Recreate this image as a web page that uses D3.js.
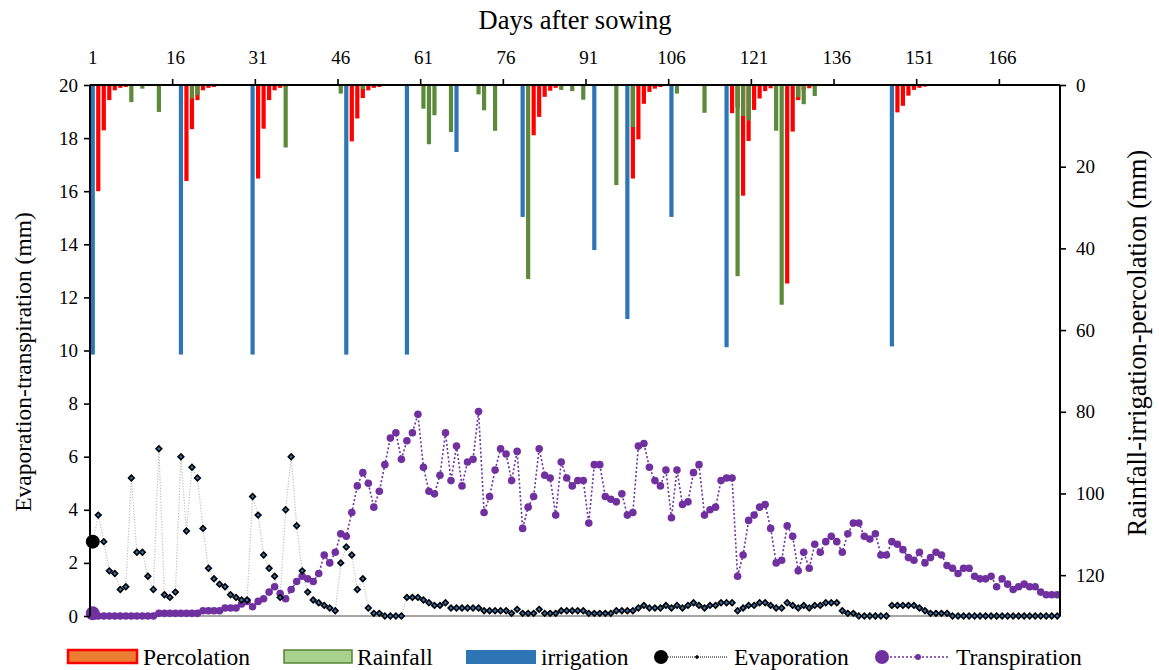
<!DOCTYPE html>
<html>
<head>
<meta charset="utf-8">
<script src="https://cdn.jsdelivr.net/npm/d3@7"></script>
<style>
  body { margin: 0; background: #fff; }
  svg text { font-family: "Liberation Serif", "Times New Roman", serif; fill: #000; }
</style>
</head>
<body>
<svg id="chart" width="1159" height="670"></svg>
<script>
// Daily water balance after sowing (days 1–176)
const days = d3.range(1, 177);

// Evaporation (mm/day), left axis
const evaporation = [
  2.8, 3.8, 2.8, 1.7, 1.6, 1.0, 1.1, 5.2, 2.4, 2.4,
  1.5, 1.0, 6.3, 0.8, 0.7, 0.9, 6.0, 3.2, 5.6, 5.2,
  3.3, 1.8, 1.4, 1.2, 1.1, 0.8, 0.7, 0.6, 0.6, 4.5,
  3.8, 2.3, 1.8, 1.5, 0.7, 4.0, 6.0, 3.4, 1.7, 0.9,
  0.6, 0.5, 0.4, 0.3, 0.2, 2.0, 2.6, 2.3, 1.0, 1.4,
  0.3, 0.1, 0.1, 0, 0, 0, 0, 0.7, 0.7, 0.7,
  0.6, 0.5, 0.4, 0.4, 0.5, 0.3, 0.3, 0.3, 0.3, 0.3,
  0.3, 0.2, 0.2, 0.2, 0.2, 0.2, 0.1, 0.25, 0.1, 0.1,
  0.1, 0.25, 0.1, 0.1, 0.1, 0.2, 0.2, 0.2, 0.2, 0.2,
  0.1, 0.1, 0.1, 0.1, 0.1, 0.2, 0.2, 0.2, 0.2, 0.3,
  0.4, 0.3, 0.3, 0.3, 0.4, 0.3, 0.4, 0.3, 0.4, 0.5,
  0.4, 0.3, 0.4, 0.4, 0.5, 0.5, 0.5, 0.2, 0.3, 0.4,
  0.4, 0.5, 0.5, 0.4, 0.3, 0.3, 0.5, 0.4, 0.3, 0.4,
  0.3, 0.4, 0.4, 0.5, 0.5, 0.5, 0.2, 0.1, 0.1, 0,
  0, 0, 0, 0, 0, 0.4, 0.4, 0.4, 0.4, 0.4,
  0.3, 0.2, 0.1, 0.1, 0.1, 0.1, 0, 0, 0, 0,
  0, 0, 0, 0, 0, 0, 0, 0, 0, 0,
  0, 0, 0, 0, 0, 0
];

// Transpiration (mm/day), left axis
const transpiration = [
  0.1, 0, 0, 0, 0, 0, 0, 0, 0, 0,
  0, 0, 0.1, 0.1, 0.1, 0.1, 0.1, 0.1, 0.1, 0.1,
  0.2, 0.2, 0.2, 0.2, 0.3, 0.3, 0.3, 0.45, 0.55, 0.35,
  0.55, 0.65, 0.9, 1.1, 0.85, 0.65, 1.0, 1.3, 1.5, 1.4,
  1.3, 1.6, 2.3, 2.0, 2.4, 3.1, 3.0, 3.9, 4.9, 5.4,
  5.0, 4.1, 4.7, 5.7, 6.7, 6.9, 5.9, 6.6, 6.9, 7.6,
  5.6, 4.7, 4.6, 5.3, 6.9, 5.1, 6.4, 4.9, 5.8, 5.9,
  7.7, 3.9, 4.5, 5.5, 6.3, 6.1, 5.1, 6.2, 3.3, 4.1,
  4.5, 6.3, 5.3, 5.2, 3.8, 5.8, 5.2, 4.9, 5.1, 5.1,
  3.5, 5.7, 5.7, 4.5, 4.4, 4.3, 4.6, 3.8, 3.9, 6.4,
  6.5, 5.6, 5.1, 4.9, 5.5, 3.7, 5.5, 4.2, 4.3, 5.4,
  5.7, 3.8, 4.0, 4.1, 5.1, 5.2, 5.2, 1.5, 2.3, 3.6,
  3.8, 4.1, 4.2, 3.3, 2.0, 2.1, 3.4, 3.0, 1.7, 2.4,
  1.8, 2.7, 2.4, 2.8, 3.0, 2.8, 2.4, 3.1, 3.5, 3.5,
  3.0, 2.9, 3.1, 2.3, 2.3, 2.8, 2.7, 2.5, 2.2, 2.1,
  2.4, 2.0, 2.2, 2.4, 2.3, 1.9, 1.8, 1.6, 1.8, 1.8,
  1.5, 1.4, 1.4, 1.5, 1.1, 1.4, 1.2, 1.0, 1.1, 1.2,
  1.1, 1.1, 0.9, 0.8, 0.8, 0.8
];

// [day, mm] pairs, right axis (hanging from the top)
const percolation = [
  [2, 26.0], [3, 11.1], [4, 3.7], [5, 1.3], [6, 0.7], [7, 0.5],
  [18, 23.5], [19, 10.8], [20, 3.7], [21, 1.3], [22, 0.7], [23, 0.5],
  [31, 22.9], [32, 10.7], [33, 3.7], [34, 1.3], [35, 0.7], [36, 0.5],
  [48, 13.8], [49, 8.2], [50, 3.2], [51, 1.3], [52, 0.7], [53, 0.5],
  [81, 12.3], [82, 7.8], [83, 2.9], [84, 1.4], [85, 0.7], [86, 0.4],
  [99, 22.9], [100, 13.3], [101, 4.6], [102, 1.7], [103, 0.9], [104, 0.5],
  [117, 6.9], [118, 5.5], [119, 27.1], [120, 13.7], [121, 6.1], [122, 3.3], [123, 1.5], [124, 0.8],
  [127, 48.6], [128, 11.4], [129, 3.7], [130, 1.2], [131, 0.8], [132, 0.5],
  [147, 6.7], [148, 5.1], [149, 2.6], [150, 1.2], [151, 0.7], [152, 0.4]
];
const rainfall = [
  [8, 4.2], [10, 0.9], [13, 6.6], [19, 3.3], [20, 2.5], [36, 15.3], [46, 2.1], [50, 1.0],
  [61, 5.8], [62, 14.5], [63, 7.4], [66, 11.5], [71, 2.3], [72, 6.2], [74, 11.2],
  [80, 47.5], [86, 1.2], [88, 1.5], [90, 3.6], [96, 24.5], [99, 10.3], [107, 2.1], [112, 6.8],
  [118, 46.8], [119, 7.6], [120, 8.7], [125, 11.2], [126, 53.8], [129, 3.0], [130, 4.7], [132, 2.7]
];
const irrigation = [
  [1, 66], [17, 66], [30, 66], [47, 66], [58, 66], [67, 16.4], [79, 32.3],
  [92, 40.4], [98, 57.3], [106, 32.3], [116, 64.2], [146, 64]
];

const leftTicks = d3.range(0, 21, 2);
const rightTicks = [0, 20, 40, 60, 80, 100, 120];
const dayTicks = [1, 16, 31, 46, 61, 76, 91, 106, 121, 136, 151, 166];

const colors = {
  percolation: "#FF0000", percolationLegend: "#ED7D31",
  rainfall: "#5B8A3A", rainfallLegend: "#A9D18E", rainfallEdge: "#548235",
  irrigation: "#2E75B6",
  evapLine: "#BFBFBF", transp: "#7030A0"
};

const plot = { left: 90, right: 1060, top: 85, bottom: 616 };
const svg = d3.select("#chart");

const x = d3.scaleBand().domain(days).range([plot.left, plot.right]).padding(0);
const cx = d => x(d) + x.bandwidth() / 2;
const yL = d3.scaleLinear().domain([0, 20]).range([plot.bottom, plot.top]);
const yR = d3.scaleLinear().domain([0, 130]).range([plot.top, plot.bottom]);

// baseline along the bottom of the plot
svg.append("line")
  .attr("x1", plot.left).attr("x2", plot.right)
  .attr("y1", yL(0)).attr("y2", yL(0))
  .attr("stroke", "#A6A6A6").attr("stroke-width", 2);

// hanging bars: percolation, rainfall, irrigation
const barW = 4.2;
function bars(data, color, cls) {
  svg.append("g").attr("class", cls)
    .selectAll("rect").data(data).join("rect")
    .attr("x", d => cx(d[0]) - barW / 2)
    .attr("y", yR(0))
    .attr("width", barW)
    .attr("height", d => yR(d[1]) - yR(0))
    .attr("fill", color);
}
bars(percolation, colors.percolation, "percolation");
bars(rainfall, colors.rainfall, "rainfall");
bars(irrigation, colors.irrigation, "irrigation");

// evaporation line + diamonds
const evapPts = days.map((d, i) => [cx(d), yL(evaporation[i])]);
svg.append("path")
  .attr("d", d3.line()(evapPts))
  .attr("fill", "none").attr("stroke", colors.evapLine)
  .attr("stroke-width", 1.2).attr("stroke-dasharray", "1.2,1.6");

// transpiration line + circles
const trPts = days.map((d, i) => [cx(d), yL(transpiration[i])]);
svg.append("path")
  .attr("d", d3.line()(trPts))
  .attr("fill", "none").attr("stroke", colors.transp)
  .attr("stroke-width", 1.6).attr("stroke-dasharray", "2,2.2");

svg.append("g").selectAll("circle").data(trPts.slice(1)).join("circle")
  .attr("cx", p => p[0]).attr("cy", p => p[1]).attr("r", 3.8)
  .attr("fill", colors.transp);

const diamond = d3.symbol().type(d3.symbolSquare).size(16);
svg.append("g").selectAll("path").data(evapPts.slice(1)).join("path")
  .attr("d", diamond)
  .attr("transform", p => `translate(${p[0]},${p[1]}) rotate(45)`)
  .attr("fill", "#2E75B6").attr("stroke", "#000").attr("stroke-width", 1.6);

// first-day markers drawn larger
svg.append("circle").attr("cx", trPts[0][0]).attr("cy", trPts[0][1]).attr("r", 7).attr("fill", colors.transp);
svg.append("circle").attr("cx", evapPts[0][0]).attr("cy", evapPts[0][1]).attr("r", 7).attr("fill", "#000");

// left axis
const gL = svg.append("g").attr("transform", `translate(${plot.left},0)`)
  .call(d3.axisLeft(yL).tickValues(leftTicks).tickSize(6).tickPadding(6));
// right axis
const gR = svg.append("g").attr("transform", `translate(${plot.right},0)`)
  .call(d3.axisRight(yR).tickValues(rightTicks).tickSize(6).tickPadding(10));
[gL, gR].forEach(g => {
  g.select(".domain").attr("stroke", "#000").attr("stroke-width", 2);
  g.selectAll(".tick line").attr("stroke", "#000").attr("stroke-width", 1.6);
  g.selectAll(".tick text").attr("font-size", 19).attr("font-family", "Liberation Serif");
});
gL.select(".domain").attr("d", `M0,${plot.top}V${plot.bottom}`);
gR.select(".domain").attr("d", `M0,${plot.top}V${plot.bottom}`);

// top day axis: ticks on category boundaries, labels on category centres
const gT = svg.append("g");
gT.append("line").attr("x1", plot.left).attr("x2", plot.right)
  .attr("y1", plot.top).attr("y2", plot.top)
  .attr("stroke", "#000").attr("stroke-width", 2);
gT.selectAll("line.tk").data(dayTicks.slice(1)).join("line").attr("class", "tk")
  .attr("x1", d => x(d)).attr("x2", d => x(d))
  .attr("y1", plot.top).attr("y2", plot.top - 6)
  .attr("stroke", "#000").attr("stroke-width", 1.6);
gT.selectAll("text").data(dayTicks).join("text")
  .attr("x", d => cx(d)).attr("y", 64)
  .attr("text-anchor", "middle").attr("font-size", 19)
  .text(d => d);

// axis titles
svg.append("text").attr("x", 575).attr("y", 29).attr("text-anchor", "middle")
  .attr("font-size", 26.5).text("Days after sowing");
svg.append("text").attr("transform", "translate(31,362) rotate(-90)")
  .attr("text-anchor", "middle").attr("font-size", 23.5)
  .text("Evaporation-transpiration (mm)");
svg.append("text").attr("transform", "translate(1146,343) rotate(-90)")
  .attr("text-anchor", "middle").attr("font-size", 26.5)
  .text("Rainfall-irrigation-percolation (mm)");

// legend
const lg = svg.append("g").attr("font-size", 23.5);
const ly = 657;
lg.append("rect").attr("x", 68).attr("y", ly - 7).attr("width", 69).attr("height", 13)
  .attr("fill", colors.percolationLegend).attr("stroke", colors.percolation).attr("stroke-width", 2.5);
lg.append("text").attr("x", 143).attr("y", ly + 8).text("Percolation");
lg.append("rect").attr("x", 284).attr("y", ly - 7).attr("width", 68).attr("height", 13)
  .attr("fill", colors.rainfallLegend).attr("stroke", colors.rainfallEdge).attr("stroke-width", 1.5);
lg.append("text").attr("x", 357).attr("y", ly + 8).text("Rainfall");
lg.append("rect").attr("x", 466).attr("y", ly - 7).attr("width", 70).attr("height", 14)
  .attr("fill", colors.irrigation);
lg.append("text").attr("x", 541).attr("y", ly + 8).text("irrigation");

lg.append("line").attr("x1", 662).attr("x2", 728).attr("y1", ly).attr("y2", ly)
  .attr("stroke", "#000").attr("stroke-width", 1).attr("stroke-dasharray", "1,1");
lg.append("path").attr("d", d3.symbol().type(d3.symbolSquare).size(10))
  .attr("transform", `translate(697,${ly}) rotate(45)`).attr("fill", "#000");
lg.append("circle").attr("cx", 661).attr("cy", ly).attr("r", 7).attr("fill", "#000");
lg.append("text").attr("x", 734).attr("y", ly + 8).text("Evaporation");

lg.append("line").attr("x1", 882).attr("x2", 950).attr("y1", ly).attr("y2", ly)
  .attr("stroke", colors.transp).attr("stroke-width", 1.6).attr("stroke-dasharray", "2,2");
lg.append("circle").attr("cx", 918).attr("cy", ly).attr("r", 3).attr("fill", colors.transp);
lg.append("circle").attr("cx", 882).attr("cy", ly).attr("r", 7).attr("fill", colors.transp);
lg.append("text").attr("x", 956).attr("y", ly + 8).text("Transpiration");
</script>
</body>
</html>
